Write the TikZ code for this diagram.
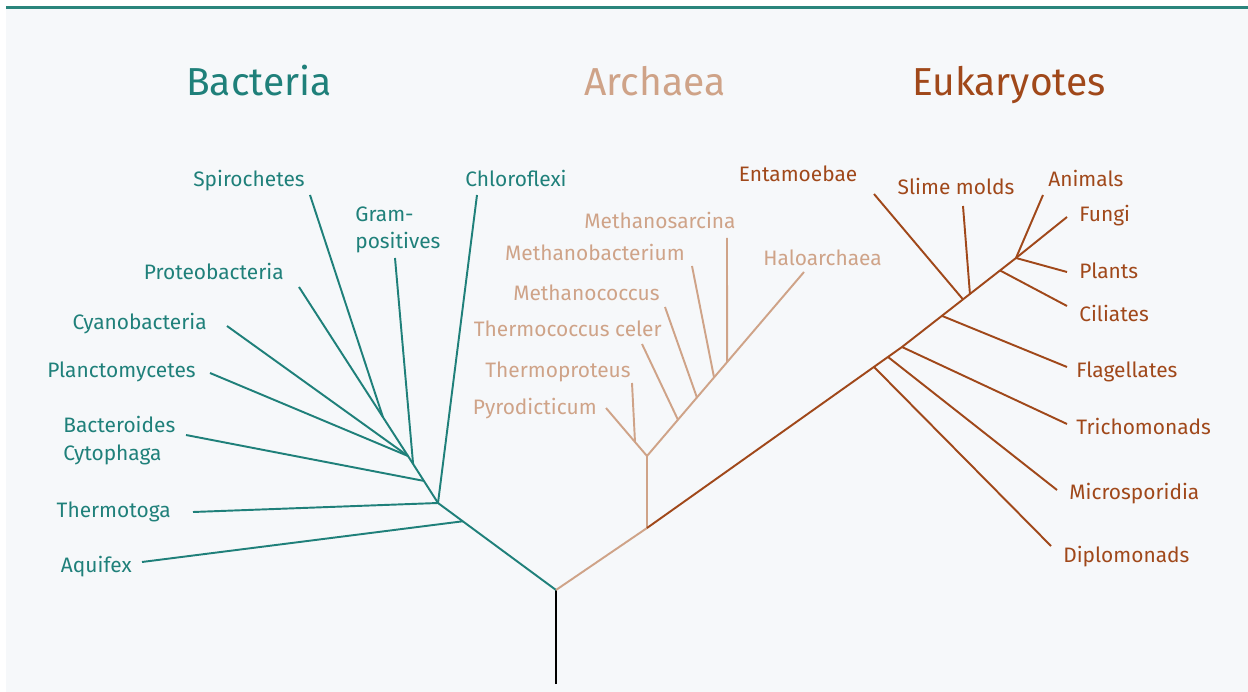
\documentclass[tikz,border=0pt]{standalone}
\usepackage{fontspec}
\setmainfont{Fira Sans}
\usepackage{tikz}
\usetikzlibrary{calc}

\definecolor{bactcol}{RGB}{31,128,122}
\definecolor{archcol}{RGB}{207,163,136}
\definecolor{eukcol}{RGB}{160,72,26}
\definecolor{bgcol}{RGB}{246,248,250}
\definecolor{rulecol}{RGB}{42,133,124}

\tikzset{
  branch/.style={line width=1.1pt},
  taxon/.style={inner sep=0pt, font=\fontsize{11.9}{15.6}\selectfont},
  domaintitle/.style={inner sep=0pt, font=\fontsize{22.2}{27}\selectfont},
}

\begin{document}
\begin{tikzpicture}[x=0.02cm, y=-0.02cm]
  % Define the frame
  \useasboundingbox (0,0) rectangle (1248,692);
  \fill[white] (0,0) rectangle (1248,692);
  \fill[bgcol] (6,9) rectangle (1248,692);
  \fill[rulecol] (6,6) rectangle (1248,9);

  % Draw the domain titles
  \node[domaintitle, text=bactcol, anchor=base] (bacteria) at (259,96) {Bacteria};
  \node[domaintitle, text=archcol, anchor=base] (archaea) at (655,96) {Archaea};
  \node[domaintitle, text=eukcol, anchor=base] (eukaryotes) at (1009,96) {Eukaryotes};

  % Define the root and the bacteria junctions
  \coordinate (root) at (556,590);
  \coordinate (rootbase) at (556,684);
  \coordinate (b0) at (438,503);
  \coordinate (bpc) at (408,456);
  \coordinate (aquifex) at (142,562);
  \coordinate (thermotoga) at (193,512);
  \coordinate (chloroflexi) at (477,195);
  \coordinate (bacteroides) at (186,435);
  \coordinate (grampos) at (395,258);
  \coordinate (plancto) at (210,373);
  \coordinate (cyano) at (227,326);
  \coordinate (proteo) at (299,287);
  \coordinate (spiro) at (310,195);
  \coordinate (baq) at ($(root)!0.79!(b0)$);
  \coordinate (bbc) at ($(b0)!0.47!(bpc)$);
  \coordinate (bgp) at ($(b0)!0.83!(bpc)$);
  \coordinate (bsp) at ($(bpc)!0.23!(proteo)$);

  % Define the archaea junctions
  \coordinate (a0) at (647,528);
  \coordinate (a1) at (647,456);
  \coordinate (a2) at (635,442);
  \coordinate (pyro) at (606,408);
  \coordinate (thermoprot) at (632,383);
  \coordinate (halo) at (804,272);
  \coordinate (thermococ) at (642,344);
  \coordinate (methcocc) at (665,307);
  \coordinate (methbact) at (692,266);
  \coordinate (methsarc) at (727,238);
  \coordinate (a3) at ($(a1)!0.197!(halo)$);
  \coordinate (a4) at ($(a1)!0.318!(halo)$);
  \coordinate (a5) at ($(a1)!0.427!(halo)$);
  \coordinate (a6) at ($(a1)!0.51!(halo)$);

  % Define the eukaryote junctions
  \coordinate (e3) at (902,347);
  \coordinate (e8) at (1016,258);
  \coordinate (e1) at ($(a0)!0.89!(e3)$);
  \coordinate (e2) at ($(a0)!0.945!(e3)$);
  \coordinate (e4) at ($(e3)!0.35!(e8)$);
  \coordinate (e5) at ($(e3)!0.535!(e8)$);
  \coordinate (e6) at ($(e3)!0.596!(e8)$);
  \coordinate (e7) at ($(e3)!0.86!(e8)$);
  \coordinate (diplo) at (1051,546);
  \coordinate (micro) at (1057,490);
  \coordinate (tricho) at (1067,424);
  \coordinate (flagel) at (1067,367);
  \coordinate (entamo) at (874,194);
  \coordinate (slime) at (963,206);
  \coordinate (ciliat) at (1067,306);
  \coordinate (plants) at (1067,272);
  \coordinate (fungi) at (1067,217);
  \coordinate (animals) at (1043,195);

  % Draw the root
  \draw[line width=1.4pt, black] (rootbase) -- (root);

  % Draw the bacteria tree
  \draw[branch, bactcol] (root) -- (b0) -- (bpc) -- (proteo);
  \foreach \j/\t in {baq/aquifex, b0/thermotoga, b0/chloroflexi, bbc/bacteroides,
                     bgp/grampos, bpc/plancto, bpc/cyano, bsp/spiro} {
    \draw[branch, bactcol] (\j) -- (\t);
  }

  % Draw the archaea tree
  \draw[branch, archcol] (root) -- (a0) -- (a1) -- (halo);
  \draw[branch, archcol] (a1) -- (a2) -- (pyro);
  \foreach \j/\t in {a2/thermoprot, a3/thermococ, a4/methcocc, a5/methbact, a6/methsarc} {
    \draw[branch, archcol] (\j) -- (\t);
  }

  % Draw the eukaryote tree
  \draw[branch, eukcol] (a0) -- (e3) -- (e8) -- (fungi);
  \foreach \j/\t in {e1/diplo, e2/micro, e3/tricho, e4/flagel, e5/entamo,
                     e6/slime, e7/ciliat, e8/plants, e8/animals} {
    \draw[branch, eukcol] (\j) -- (\t);
  }

  % Label the bacteria
  \begin{scope}[every node/.style={taxon, text=bactcol}]
    \node[anchor=base] (lspiro) at (249,187) {Spirochetes};
    \node[anchor=base west, align=left] (lgram) at (355,249) {Gram-\\positives};
    \node[anchor=base] (lchloro) at (516,187) {Chloroflexi};
    \node[anchor=base east] (lproteo) at (284,280) {Proteobacteria};
    \node[anchor=base east] (lcyano) at (207,330) {Cyanobacteria};
    \node[anchor=base east] (lplancto) at (196,378) {Planctomycetes};
    \node[anchor=base west, align=left] (lbactero) at (63,460) {Bacteroides\\Cytophaga};
    \node[anchor=base east] (lthermotoga) at (171,518) {Thermotoga};
    \node[anchor=base east] (laquifex) at (132,572) {Aquifex};
  \end{scope}

  % Label the archaea
  \begin{scope}[every node/.style={taxon, text=archcol}]
    \node[anchor=base] (lmethsarc) at (660,229) {Methanosarcina};
    \node[anchor=base east] (lmethbact) at (685,261) {Methanobacterium};
    \node[anchor=base west] (lhalo) at (763,266) {Haloarchaea};
    \node[anchor=base east] (lmethcocc) at (660,301) {Methanococcus};
    \node[anchor=base east] (lthermococ) at (662,337) {Thermococcus celer};
    \node[anchor=base east] (lthermoprot) at (631,378) {Thermoproteus};
    \node[anchor=base east] (lpyro) at (597,415) {Pyrodicticum};
  \end{scope}

  % Label the eukaryotes
  \begin{scope}[every node/.style={taxon, text=eukcol}]
    \node[anchor=base] (lentamo) at (798,182) {Entamoebae};
    \node[anchor=base] (lslime) at (956,195) {Slime molds};
    \node[anchor=base west] (lanimals) at (1048,187) {Animals};
    \node[anchor=base west] (lfungi) at (1079,222) {Fungi};
    \node[anchor=base west] (lplants) at (1079,279) {Plants};
    \node[anchor=base west] (lciliat) at (1079,322) {Ciliates};
    \node[anchor=base west] (lflagel) at (1076,378) {Flagellates};
    \node[anchor=base west] (ltricho) at (1076,435) {Trichomonads};
    \node[anchor=base west] (lmicro) at (1069,500) {Microsporidia};
    \node[anchor=base west] (ldiplo) at (1063,562) {Diplomonads};
  \end{scope}
\end{tikzpicture}
\end{document}
